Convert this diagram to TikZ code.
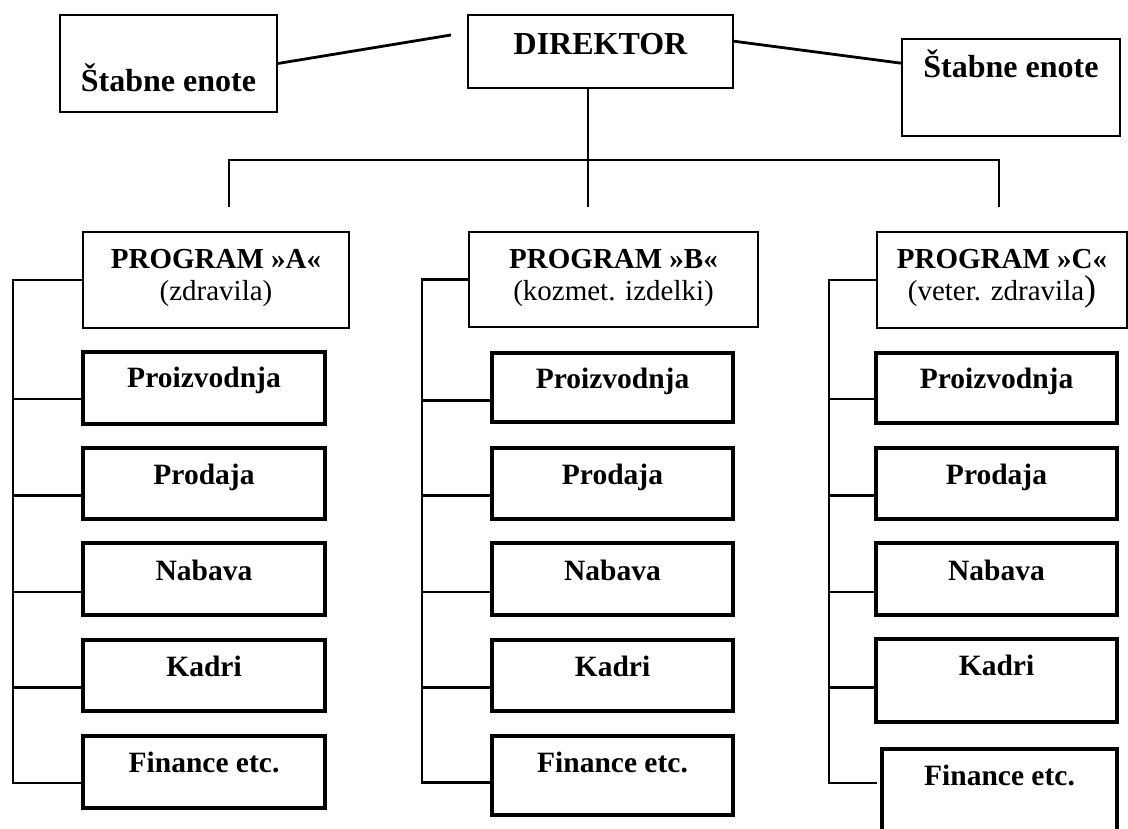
\documentclass[tikz,border=0pt]{standalone}
\usepackage{fontspec}
\setmainfont{Liberation Serif}
\usetikzlibrary{fit,calc}

\tikzset{
  thinbox/.style={draw, line width=1.6pt, inner sep=0pt},
  unitbox/.style={draw, line width=3.7pt, inner sep=0pt},
  conn/.style={line width=2.8pt},
  toptxt/.style={anchor=base, inner sep=0pt, font=\bfseries\fontsize{32}{37}\selectfont},
  progtxt/.style={anchor=base, inner sep=0pt, font=\bfseries\fontsize{29}{34}\selectfont},
  subtxt/.style={anchor=base, inner sep=0pt, font=\fontsize{29}{34}\selectfont},
  unittxt/.style={anchor=base, inner sep=0pt, font=\bfseries\fontsize{29.5}{34}\selectfont},
}

% short horizontal connector from a box's left side to a spine
\newcommand\tapline[3]{%
  \coordinate (#1tap) at ([yshift=#3]#1.west);
  \draw[conn] (#1tap) -- (#1tap -| #2);}

\begin{document}
\begin{tikzpicture}[x=1pt,y=-1pt]
\useasboundingbox (0,0) rectangle (1128,829);
\clip (0,0) rectangle (1128,829);

% ---------- top level ----------
\node[thinbox, fit={(60,15) (277,112)}] (stL) {};
\node[thinbox, fit={(468,15) (733,88)}] (dir) {};
\node[thinbox, fit={(902,39) (1120,136)}] (stR) {};
\node[toptxt] (stLt) at ([yshift=-77pt]stL.north) {Štabne enote};
\node[toptxt] (dirt) at ([yshift=-40pt]dir.north) {DIREKTOR};
\node[toptxt] (stRt) at ([yshift=-39pt]stR.north) {Štabne enote};

\coordinate (stLend) at (451,35);
\draw[conn] (stL.east) -- (stLend);
\draw[conn] ([yshift=-27pt]dir.north east) -- ([yshift=-25pt]stR.north west);

% bus below the director
\coordinate (busL) at (229,160);
\coordinate (busR) at (999,160);
\coordinate (dropL) at (229,207);
\coordinate (dropR) at (999,207);
\coordinate (dirfoot) at (588,207);
\draw[conn] (dir.south -| dirfoot) -- (dirfoot);
\draw[conn] (dropL) -- (busL) -- (busR) -- (dropR);

% ---------- programme boxes ----------
\node[thinbox, fit={(83,232) (349,328)}] (pA) {};
\node[thinbox, fit={(469,232) (758,327)}] (pB) {};
\node[thinbox, fit={(877,232) (1127,328)}] (pC) {};
\node[progtxt] (pAt) at ([yshift=-37pt]pA.north) {PROGRAM »A«};
\node[subtxt]  (pAs) at ([yshift=-69pt]pA.north) {(zdravila)};
\node[progtxt] (pBt) at ([yshift=-37pt]pB.north) {PROGRAM »B«};
\node[subtxt]  (pBs) at ([yshift=-69pt]pB.north) {(kozmet. izdelki)};
\node[progtxt] (pCt) at ([yshift=-37pt]pC.north) {PROGRAM »C«};
\node[subtxt]  (pCs) at ([yshift=-69pt]pC.north) {(veter. zdravila{\fontsize{36}{40}\selectfont)}};

% ---------- units, column A ----------
\node[unitbox, fit={(83,352) (325,424)}] (a1) {};
\node[unitbox, fit={(83,448) (325,519)}] (a2) {};
\node[unitbox, fit={(83,543) (325,615)}] (a3) {};
\node[unitbox, fit={(83,640) (325,711)}] (a4) {};
\node[unitbox, fit={(83,736) (325,808)}] (a5) {};
% ---------- units, column B ----------
\node[unitbox, fit={(492,353) (733,422)}] (b1) {};
\node[unitbox, fit={(492,448) (733,519)}] (b2) {};
\node[unitbox, fit={(492,543) (733,615)}] (b3) {};
\node[unitbox, fit={(492,640) (733,711)}] (b4) {};
\node[unitbox, fit={(492,736) (733,815)}] (b5) {};
% ---------- units, column C ----------
\node[unitbox, fit={(876,353) (1117,423)}] (c1) {};
\node[unitbox, fit={(876,448) (1117,519)}] (c2) {};
\node[unitbox, fit={(876,543) (1117,615)}] (c3) {};
\node[unitbox, fit={(876,639) (1117,722)}] (c4) {};
\node[unitbox, fit={(882,749) (1117,870)}] (c5) {};

\foreach \col in {a,b,c}{
  \node[unittxt] (\col1t) at ([yshift=-37pt]\col1.north) {Proizvodnja};
  \node[unittxt] (\col2t) at ([yshift=-38pt]\col2.north) {Prodaja};
  \node[unittxt] (\col3t) at ([yshift=-39pt]\col3.north) {Nabava};
  \node[unittxt] (\col4t) at ([yshift=-38pt]\col4.north) {Kadri};
  \node[unittxt] (\col5t) at ([yshift=-38pt]\col5.north) {Finance etc.};
}

% ---------- spines ----------
\coordinate (sA) at (13,279);
\coordinate (sB) at (422,280);
\coordinate (sC) at (829,279);

\coordinate (a5tap) at ([yshift=-11pt]a5.west);
\draw[conn] (pA.west) -- (pA.west -| sA) -- (a5tap -| sA) -- (a5tap);
\tapline{a1}{sA}{-11pt}
\tapline{a2}{sA}{-12pt}
\tapline{a3}{sA}{-13pt}
\tapline{a4}{sA}{-12pt}

\coordinate (b5tap) at ([yshift=-7pt]b5.west);
\draw[conn] (pB.west) -- (pB.west -| sB) -- (b5tap -| sB) -- (b5tap);
\tapline{b1}{sB}{-13pt}
\tapline{b2}{sB}{-12pt}
\tapline{b3}{sB}{-13pt}
\tapline{b4}{sB}{-12pt}

\coordinate (c5end) at (877,783);
\draw[conn] (pC.west) -- (pC.west -| sC) -- (c5end -| sC) -- (c5end);
\tapline{c1}{sC}{-11pt}
\tapline{c2}{sC}{-12pt}
\tapline{c3}{sC}{-13pt}
\tapline{c4}{sC}{-7pt}
\end{tikzpicture}
\end{document}
